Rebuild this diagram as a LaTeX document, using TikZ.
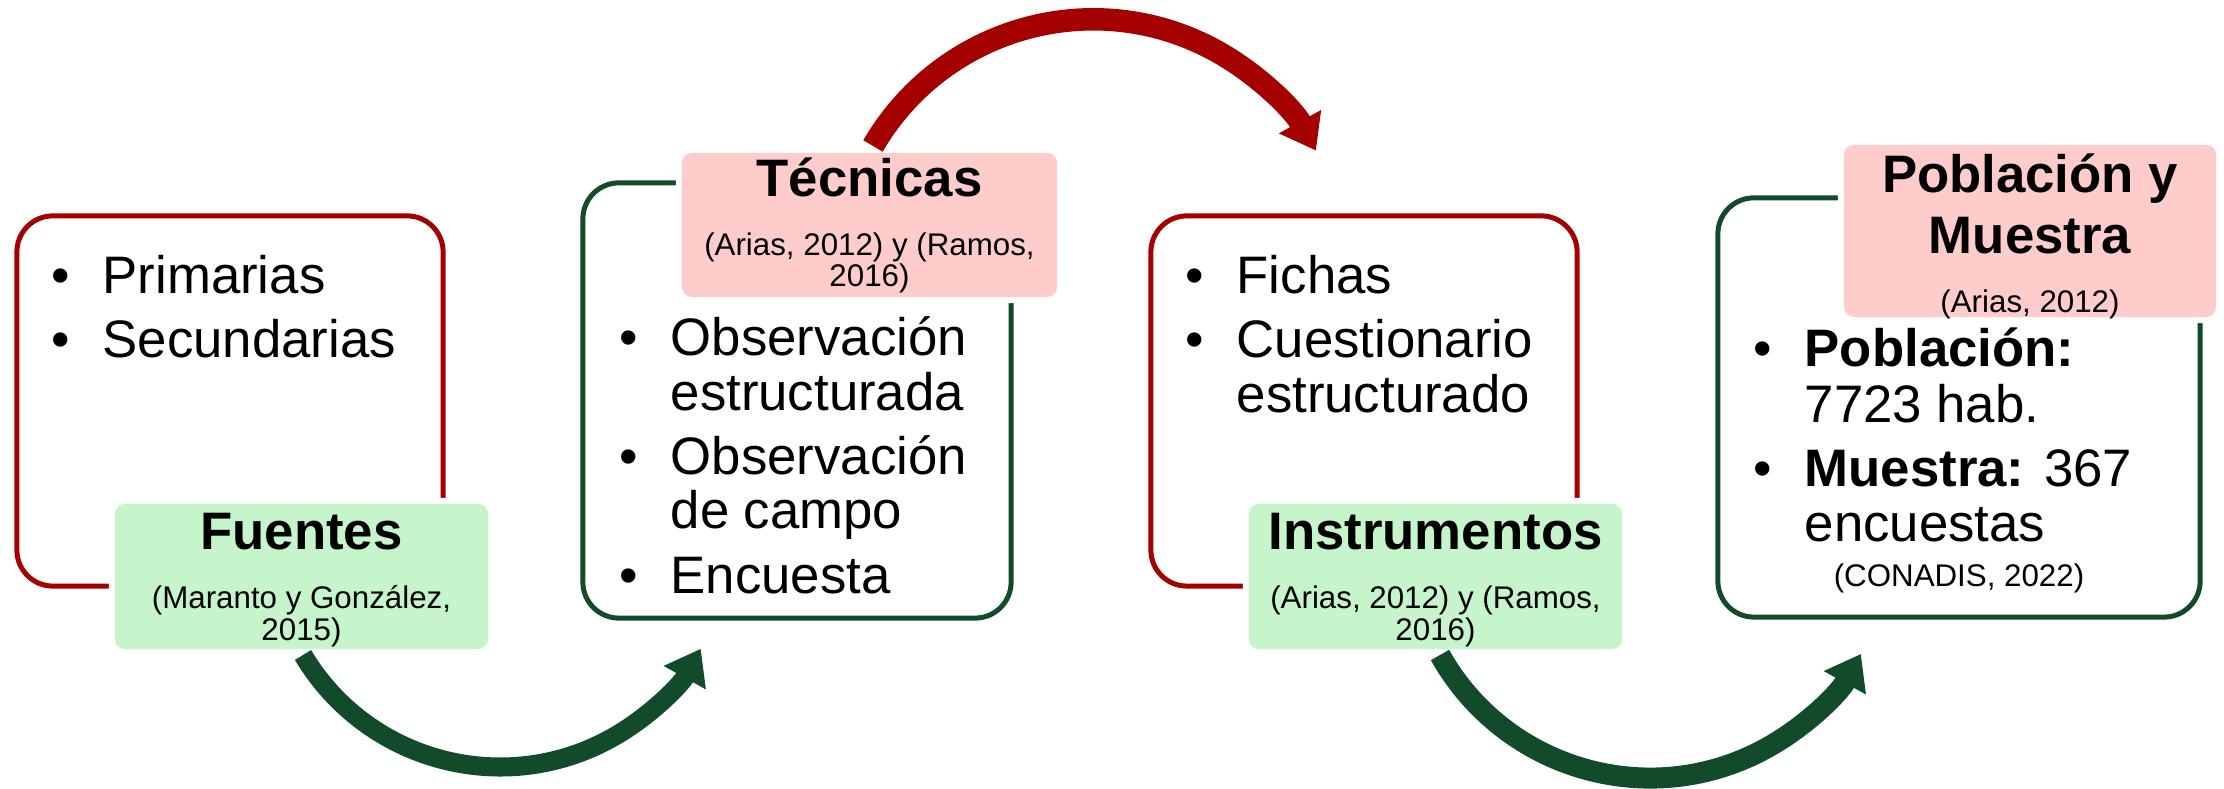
\documentclass[tikz,border=0pt]{standalone}
\usepackage{fontspec}
\setmainfont{Liberation Sans}
\usetikzlibrary{arrows.meta}
\definecolor{palRed}{HTML}{A50000}
\definecolor{palGreen}{HTML}{114B2A}
\definecolor{palGreenLt}{HTML}{C6F5CC}
\definecolor{palPinkLt}{HTML}{FFCCCC}
\tikzset{
  outerbox/.style={draw, rounded corners=0.36cm, line width=0.05cm,
                   inner sep=0pt, outer sep=0pt},
  redbox/.style={outerbox, draw=palRed, minimum width=4.26cm,
                 minimum height=3.70cm},
  grnbox/.style={outerbox, draw=palGreen},
  labelbox/.style={rounded corners=0.1cm, inner sep=0pt, outer sep=0pt,
                   preaction={draw=white, line width=0.12cm}},
  grnlabel/.style={labelbox, fill=palGreenLt, minimum width=3.73cm,
                   minimum height=1.45cm},
  pinklabel/.style={labelbox, fill=palPinkLt},
  headtext/.style={anchor=base, inner sep=0pt,
                   font=\fontsize{15}{15.6}\selectfont\bfseries},
  citetext/.style={anchor=base, inner sep=0pt,
                   font=\fontsize{8.9}{9}\selectfont},
  itemtext/.style={anchor=base west, inner sep=0pt,
                   font=\fontsize{15}{15.6}\selectfont},
  bulletmark/.style={anchor=base, inner sep=0pt,
                     font=\fontsize{15}{15.6}\selectfont},
  bigarrow/.style={-{Triangle[length=0.33cm, width=0.46cm]}},
}

\begin{document}
\begin{tikzpicture}[x=0.01cm, y=0.01cm]
\useasboundingbox (0,0) rectangle (2224,789);

%% Outer frames
\node[redbox] (fueBox) at (230,388) {};
\node[grnbox, minimum width=4.28cm, minimum height=4.35cm] (tecBox) at (797,388.5) {};
\node[redbox] (insBox) at (1364,388) {};
\node[grnbox, minimum width=4.82cm, minimum height=4.19cm] (pobBox) at (1959,381.5) {};

%% Title labels
\node[grnlabel] (fue) at (301.5,212.5) {};
\node[pinklabel, minimum width=3.75cm, minimum height=1.44cm] (tec) at (869.5,564) {};
\node[grnlabel] (ins) at (1435.5,212.5) {};
\node[pinklabel, minimum width=3.72cm, minimum height=1.72cm] (pob) at (2030,558) {};

\node[headtext] (fueH) at (301.5,239) {Fuentes};
\node[citetext] (fueC1) at (301.5,180) {(Maranto y González,};
\node[citetext] (fueC2) at (301.5,148) {2015)};

\node[headtext] (tecH) at (869.5,592) {Técnicas};
\node[citetext] (tecC1) at (869.5,533) {(Arias, 2012) y (Ramos,};
\node[citetext] (tecC2) at (869.5,502) {2016)};

\node[headtext] (insH) at (1435.5,239) {Instrumentos};
\node[citetext] (insC1) at (1435.5,180) {(Arias, 2012) y (Ramos,};
\node[citetext] (insC2) at (1435.5,148) {2016)};

\node[headtext] (pobH1) at (2030,596) {Población y};
\node[headtext] (pobH2) at (2030,535) {Muestra};
\node[citetext] (pobC) at (2030,476) {(Arias, 2012)};

%% Bullet lists: index / baseline / bullet? / text
\foreach \n/\yy/\b/\txt in {1/495/1/Primarias, 2/431/1/Secundarias} {
  \ifnum\b=1\relax \node[bulletmark] (fueB\n) at (61,\yy) {\textbullet}; \fi
  \node[itemtext] (fueT\n) at (102,\yy) {\txt};
}
\foreach \n/\yy/\b/\txt in {1/433/1/Observación, 2/378/0/estructurada,
                            3/314/1/Observación, 4/260/0/de campo, 5/195/1/Encuesta} {
  \ifnum\b=1\relax \node[bulletmark] (tecB\n) at (629,\yy) {\textbullet}; \fi
  \node[itemtext] (tecT\n) at (670,\yy) {\txt};
}
\foreach \n/\yy/\b/\txt in {1/495/1/Fichas, 2/431/1/Cuestionario, 3/376/0/estructurado} {
  \ifnum\b=1\relax \node[bulletmark] (insB\n) at (1195,\yy) {\textbullet}; \fi
  \node[itemtext] (insT\n) at (1236,\yy) {\txt};
}
\foreach \n/\yy/\b/\txt in {1/422/1/{\textbf{Población:}}, 2/366/0/{7723 hab.},
                            3/302/1/{\textbf{Muestra:} 367}, 4/247/0/encuestas} {
  \ifnum\b=1\relax \node[bulletmark] (pobB\n) at (1763,\yy) {\textbullet}; \fi
  \node[itemtext] (pobT\n) at (1804,\yy) {\txt};
}
\node[citetext] (pobS) at (1959,202) {(CONADIS, 2022)};

%% Curved arrows between steps
\draw[bigarrow, palGreen, line width=0.19cm]
  ([xshift=0.015cm, yshift=-0.06cm]fue.south) arc[start angle=210.8, end angle=331, radius=2.293cm];
\draw[bigarrow, palRed, line width=0.225cm]
  ([xshift=0.035cm, yshift=0.07cm]tec.north) arc[start angle=149.8, end angle=29, radius=2.546cm];
\draw[bigarrow, palGreen, line width=0.21cm]
  ([xshift=0.045cm, yshift=-0.06cm]ins.south) arc[start angle=209.3, end angle=331, radius=2.408cm];
\end{tikzpicture}
\end{document}
